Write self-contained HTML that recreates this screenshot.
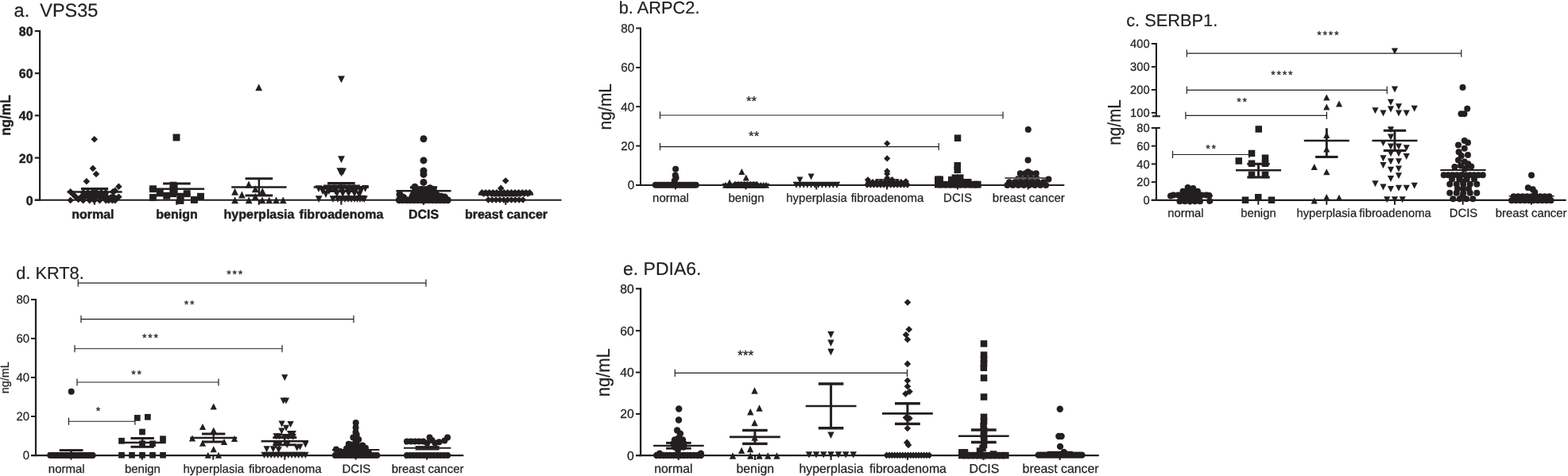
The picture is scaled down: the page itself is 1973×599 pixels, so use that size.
<!DOCTYPE html>
<html lang="en">
<head>
<meta charset="utf-8">
<title>Serum biomarker levels</title>
<style>
html,body{margin:0;padding:0;background:#fff;}
body{width:1973px;height:599px;overflow:hidden;}
svg{display:block;font-family:"Liberation Sans",Arial,Helvetica,sans-serif;}
text{white-space:pre;}
</style>
</head>
<body>
<svg width="1973" height="599" viewBox="0 0 1973 599" text-rendering="geometricPrecision">
<rect width="1973" height="599" fill="#ffffff"/>
<g>
<g fill="none" stroke="#231f20"><path d="M50.1 38L50.1 252.85" stroke-width="2.2"/><path d="M43.8 39.1L50.1 39.1" stroke-width="2.2"/><path d="M43.8 92.25L50.1 92.25" stroke-width="2.2"/><path d="M43.8 145.4L50.1 145.4" stroke-width="2.2"/><path d="M43.8 198.6L50.1 198.6" stroke-width="2.2"/><path d="M43.8 251.75L50.1 251.75" stroke-width="2.2"/><path d="M43.8 251.75L706.5 251.75" stroke-width="2.2"/><path d="M118.9 251.75L118.9 257.75" stroke-width="2.2"/><path d="M222.3 251.75L222.3 257.75" stroke-width="2.2"/><path d="M325.8 251.75L325.8 257.75" stroke-width="2.2"/><path d="M429.4 251.75L429.4 257.75" stroke-width="2.2"/><path d="M533 251.75L533 257.75" stroke-width="2.2"/><path d="M636.3 251.75L636.3 257.75" stroke-width="2.2"/><path d="M84.55 241.5L153.55 241.5" stroke-width="2.5"/><path d="M101.95 237.6L136.15 237.6" stroke-width="3.2"/><path d="M101.95 244.8L136.15 244.8" stroke-width="3.2"/><path d="M119.05 237.6L119.05 244.8" stroke-width="2.5"/><path d="M187.7 237.75L257.1 237.75" stroke-width="2.5"/><path d="M205.1 231L239.7 231" stroke-width="3.2"/><path d="M205.1 244.5L239.7 244.5" stroke-width="3.2"/><path d="M222.4 231L222.4 244.5" stroke-width="2.5"/><path d="M291.2 235.4L360.6 235.4" stroke-width="2.5"/><path d="M308.6 224.75L343.2 224.75" stroke-width="3.2"/><path d="M308.6 246L343.2 246" stroke-width="3.2"/><path d="M325.9 224.75L325.9 246" stroke-width="2.5"/><path d="M394.7 235.5L464.1 235.5" stroke-width="2.5"/><path d="M412.1 230.6L446.7 230.6" stroke-width="3.2"/><path d="M412.1 240.3L446.7 240.3" stroke-width="3.2"/><path d="M429.4 230.6L429.4 240.3" stroke-width="2.5"/><path d="M498.4 240.2L567.6 240.2" stroke-width="2.5"/><path d="M515.9 235.9L550.1 235.9" stroke-width="3.2"/><path d="M515.9 244.6L550.1 244.6" stroke-width="3.2"/><path d="M533 235.9L533 244.6" stroke-width="2.5"/><path d="M601.7 244.6L671.1 244.6" stroke-width="2.5"/><path d="M619.1 243.6L653.7 243.6" stroke-width="3.2"/><path d="M619.1 245.6L653.7 245.6" stroke-width="3.2"/><path d="M636.4 243.6L636.4 245.6" stroke-width="2.5"/></g>
<g fill="#231f20"><path d="M118.75 170.95L123.05 175.25L118.75 179.55L114.45 175.25Z"/><path d="M116.9 207.6L121.2 211.9L116.9 216.2L112.6 211.9Z"/><path d="M121 214.7L125.3 219L121 223.3L116.7 219Z"/><path d="M108.9 223.95L113.2 228.25L108.9 232.55L104.6 228.25Z"/><path d="M149.4 230.4L153.7 234.7L149.4 239L145.1 234.7Z"/><path d="M88.7 237.1L93 241.4L88.7 245.7L84.4 241.4Z"/><path d="M88.7 247.7L93 252L88.7 256.3L84.4 252Z"/><path d="M92 240.3L96.3 244.6L92 248.9L87.7 244.6Z"/><path d="M95.4 243.6L99.7 247.9L95.4 252.2L91.1 247.9Z"/><path d="M98.7 246.7L103 251L98.7 255.3L94.4 251Z"/><path d="M142.1 236.9L146.4 241.2L142.1 245.5L137.8 241.2Z"/><path d="M144.8 235.6L149.1 239.9L144.8 244.2L140.5 239.9Z"/><path d="M149.4 243.4L153.7 247.7L149.4 252L145.1 247.7Z"/><path d="M146 245.7L150.3 250L146 254.3L141.7 250Z"/><path d="M142.5 242.7L146.8 247L142.5 251.3L138.2 247Z"/><path d="M104.7 247.9L109 252.2L104.7 256.5L100.4 252.2Z"/><path d="M112.7 247.9L117 252.2L112.7 256.5L108.4 252.2Z"/><path d="M118.7 247.9L123 252.2L118.7 256.5L114.4 252.2Z"/><path d="M125.4 247.9L129.7 252.2L125.4 256.5L121.1 252.2Z"/><path d="M133.4 247.9L137.7 252.2L133.4 256.5L129.1 252.2Z"/><path d="M136.8 247.9L141.1 252.2L136.8 256.5L132.5 252.2Z"/><path d="M141.4 247.9L145.7 252.2L141.4 256.5L137.1 252.2Z"/><path d="M144.8 247.9L149.1 252.2L144.8 256.5L140.5 252.2Z"/><path d="M101.5 244L105.8 248.3L101.5 252.6L97.2 248.3Z"/><path d="M106.25 244L110.55 248.3L106.25 252.6L101.95 248.3Z"/><path d="M111 244L115.3 248.3L111 252.6L106.7 248.3Z"/><path d="M115.75 244L120.05 248.3L115.75 252.6L111.45 248.3Z"/><path d="M120.5 244L124.8 248.3L120.5 252.6L116.2 248.3Z"/><path d="M125.25 244L129.55 248.3L125.25 252.6L120.95 248.3Z"/><path d="M130 244L134.3 248.3L130 252.6L125.7 248.3Z"/><path d="M134.75 244L139.05 248.3L134.75 252.6L130.45 248.3Z"/><path d="M139.5 244L143.8 248.3L139.5 252.6L135.2 248.3Z"/><path d="M105 238.1L109.3 242.4L105 246.7L100.7 242.4Z"/><path d="M110.6 238.1L114.9 242.4L110.6 246.7L106.3 242.4Z"/><path d="M116.2 238.1L120.5 242.4L116.2 246.7L111.9 242.4Z"/><path d="M121.8 238.1L126.1 242.4L121.8 246.7L117.5 242.4Z"/><path d="M127.4 238.1L131.7 242.4L127.4 246.7L123.1 242.4Z"/><path d="M133 238.1L137.3 242.4L133 246.7L128.7 242.4Z"/><rect x="217.55" y="168.55" width="8.9" height="8.9"/><rect x="188.05" y="233.3" width="8.9" height="8.9"/><rect x="188.05" y="244.05" width="8.9" height="8.9"/><rect x="196.8" y="238.55" width="8.9" height="8.9"/><rect x="205.3" y="241.85" width="8.9" height="8.9"/><rect x="213.55" y="228.75" width="8.9" height="8.9"/><rect x="213.55" y="234.05" width="8.9" height="8.9"/><rect x="213.55" y="239.25" width="8.9" height="8.9"/><rect x="222.55" y="242.75" width="8.9" height="8.9"/><rect x="222.55" y="248.05" width="8.9" height="8.9"/><rect x="230.75" y="239.25" width="8.9" height="8.9"/><rect x="239.95" y="247.05" width="8.9" height="8.9"/><rect x="248.05" y="242.8" width="8.9" height="8.9"/><path d="M321.3 114.2L330.1 114.2L325.7 105.4Z"/><path d="M308.6 236.4L317.4 236.4L313 227.6Z"/><path d="M291.2 245.65L300 245.65L295.6 236.85Z"/><path d="M300 249.4L308.8 249.4L304.4 240.6Z"/><path d="M316.85 242.15L325.65 242.15L321.25 233.35Z"/><path d="M325.85 245L334.65 245L330.25 236.2Z"/><path d="M316.85 251.9L325.65 251.9L321.25 243.1Z"/><path d="M291.2 256.3L300 256.3L295.6 247.5Z"/><path d="M308.7 256.3L317.5 256.3L313.1 247.5Z"/><path d="M325.6 256.3L334.4 256.3L330 247.5Z"/><path d="M334.35 256.3L343.15 256.3L338.75 247.5Z"/><path d="M343.1 256.3L351.9 256.3L347.5 247.5Z"/><path d="M351.85 256.3L360.65 256.3L356.25 247.5Z"/><path d="M425.1 95.6L433.9 95.6L429.5 104.4Z"/><path d="M425.1 196.35L433.9 196.35L429.5 205.15Z"/><path d="M423.5 211.2L432.3 211.2L427.9 220Z"/><path d="M427.2 211.4L436 211.4L431.6 220.2Z"/><path d="M425.2 213.4L434 213.4L429.6 222.2Z"/><path d="M396.6 233.2L405.4 233.2L401 242Z"/><path d="M455.2 233L464 233L459.6 241.8Z"/><path d="M402.6 234.1L411.4 234.1L407 242.9Z"/><path d="M448.6 234.1L457.4 234.1L453 242.9Z"/><path d="M396.8 246.2L405.6 246.2L401.2 255Z"/><path d="M405.6 240.1L414.4 240.1L410 248.9Z"/><path d="M447.6 240.6L456.4 240.6L452 249.4Z"/><path d="M451.6 245.8L460.4 245.8L456 254.6Z"/><path d="M454 246.2L462.8 246.2L458.4 255Z"/><path d="M406.6 232.4L415.4 232.4L411 241.2Z"/><path d="M412.93 232.4L421.73 232.4L417.33 241.2Z"/><path d="M419.27 232.4L428.07 232.4L423.67 241.2Z"/><path d="M425.6 232.4L434.4 232.4L430 241.2Z"/><path d="M431.93 232.4L440.73 232.4L436.33 241.2Z"/><path d="M438.27 232.4L447.07 232.4L442.67 241.2Z"/><path d="M444.6 232.4L453.4 232.4L449 241.2Z"/><path d="M401.6 236.2L410.4 236.2L406 245Z"/><path d="M409.6 236.2L418.4 236.2L414 245Z"/><path d="M417.6 236.2L426.4 236.2L422 245Z"/><path d="M425.6 236.2L434.4 236.2L430 245Z"/><path d="M433.6 236.2L442.4 236.2L438 245Z"/><path d="M441.6 236.2L450.4 236.2L446 245Z"/><path d="M449.6 236.2L458.4 236.2L454 245Z"/><path d="M419.6 239.2L428.4 239.2L424 248Z"/><path d="M426.93 239.2L435.73 239.2L431.33 248Z"/><path d="M434.27 239.2L443.07 239.2L438.67 248Z"/><path d="M441.6 239.2L450.4 239.2L446 248Z"/><path d="M414.6 246.2L423.4 246.2L419 255Z"/><path d="M420.6 246.2L429.4 246.2L425 255Z"/><path d="M425.2 246.2L434 246.2L429.6 255Z"/><path d="M429.6 246.2L438.4 246.2L434 255Z"/><path d="M433.6 246.2L442.4 246.2L438 255Z"/><path d="M437.6 246.2L446.4 246.2L442 255Z"/><path d="M441.6 246.2L450.4 246.2L446 255Z"/><path d="M445.1 246.2L453.9 246.2L449.5 255Z"/><path d="M448.6 246.2L457.4 246.2L453 255Z"/><circle cx="533" cy="174.75" r="4.5"/><circle cx="533" cy="201.9" r="4.5"/><circle cx="533" cy="215" r="4.5"/><circle cx="533" cy="219.4" r="4.5"/><circle cx="533" cy="229.4" r="4.5"/><circle cx="522" cy="235.2" r="4.5"/><circle cx="541" cy="236.8" r="4.5"/><circle cx="503" cy="244.8" r="4.5"/><circle cx="507.5" cy="248.2" r="4.5"/><circle cx="549.5" cy="245.3" r="4.5"/><circle cx="555" cy="247.2" r="4.5"/><circle cx="559.5" cy="247.9" r="4.5"/><circle cx="502.3" cy="251.7" r="4.5"/><circle cx="506.99" cy="251.7" r="4.5"/><circle cx="511.68" cy="251.7" r="4.5"/><circle cx="516.38" cy="251.7" r="4.5"/><circle cx="521.07" cy="251.7" r="4.5"/><circle cx="525.76" cy="251.7" r="4.5"/><circle cx="530.45" cy="251.7" r="4.5"/><circle cx="535.15" cy="251.7" r="4.5"/><circle cx="539.84" cy="251.7" r="4.5"/><circle cx="544.53" cy="251.7" r="4.5"/><circle cx="549.22" cy="251.7" r="4.5"/><circle cx="553.92" cy="251.7" r="4.5"/><circle cx="558.61" cy="251.7" r="4.5"/><circle cx="563.3" cy="251.7" r="4.5"/><circle cx="519" cy="247.3" r="4.5"/><circle cx="525" cy="247.3" r="4.5"/><circle cx="531" cy="247.3" r="4.5"/><circle cx="537" cy="247.3" r="4.5"/><circle cx="543" cy="247.3" r="4.5"/><circle cx="549" cy="247.3" r="4.5"/><circle cx="521" cy="242.6" r="4.5"/><circle cx="527.5" cy="242.6" r="4.5"/><circle cx="534" cy="242.6" r="4.5"/><circle cx="540.5" cy="242.6" r="4.5"/><circle cx="547" cy="242.6" r="4.5"/><circle cx="523" cy="238.8" r="4.5"/><circle cx="530.33" cy="238.8" r="4.5"/><circle cx="537.67" cy="238.8" r="4.5"/><circle cx="545" cy="238.8" r="4.5"/><path d="M636.25 223.2L640.55 227.5L636.25 231.8L631.95 227.5Z"/><path d="M630.25 232.6L634.55 236.9L630.25 241.2L625.95 236.9Z"/><path d="M606.5 238.1L610.8 242.4L606.5 246.7L602.2 242.4Z"/><path d="M611.12 238.1L615.42 242.4L611.12 246.7L606.82 242.4Z"/><path d="M615.73 238.1L620.03 242.4L615.73 246.7L611.43 242.4Z"/><path d="M620.35 238.1L624.65 242.4L620.35 246.7L616.05 242.4Z"/><path d="M624.96 238.1L629.26 242.4L624.96 246.7L620.66 242.4Z"/><path d="M629.58 238.1L633.88 242.4L629.58 246.7L625.28 242.4Z"/><path d="M634.19 238.1L638.49 242.4L634.19 246.7L629.89 242.4Z"/><path d="M638.81 238.1L643.11 242.4L638.81 246.7L634.51 242.4Z"/><path d="M643.42 238.1L647.72 242.4L643.42 246.7L639.12 242.4Z"/><path d="M648.04 238.1L652.34 242.4L648.04 246.7L643.74 242.4Z"/><path d="M652.65 238.1L656.95 242.4L652.65 246.7L648.35 242.4Z"/><path d="M657.27 238.1L661.57 242.4L657.27 246.7L652.97 242.4Z"/><path d="M661.88 238.1L666.18 242.4L661.88 246.7L657.58 242.4Z"/><path d="M666.5 238.1L670.8 242.4L666.5 246.7L662.2 242.4Z"/><path d="M608.8 239.5L613.1 243.8L608.8 248.1L604.5 243.8Z"/><path d="M613.42 239.5L617.72 243.8L613.42 248.1L609.12 243.8Z"/><path d="M618.03 239.5L622.33 243.8L618.03 248.1L613.73 243.8Z"/><path d="M622.65 239.5L626.95 243.8L622.65 248.1L618.35 243.8Z"/><path d="M627.27 239.5L631.57 243.8L627.27 248.1L622.97 243.8Z"/><path d="M631.88 239.5L636.18 243.8L631.88 248.1L627.58 243.8Z"/><path d="M636.5 239.5L640.8 243.8L636.5 248.1L632.2 243.8Z"/><path d="M641.12 239.5L645.42 243.8L641.12 248.1L636.82 243.8Z"/><path d="M645.73 239.5L650.03 243.8L645.73 248.1L641.43 243.8Z"/><path d="M650.35 239.5L654.65 243.8L650.35 248.1L646.05 243.8Z"/><path d="M654.97 239.5L659.27 243.8L654.97 248.1L650.67 243.8Z"/><path d="M659.58 239.5L663.88 243.8L659.58 248.1L655.28 243.8Z"/><path d="M664.2 239.5L668.5 243.8L664.2 248.1L659.9 243.8Z"/><path d="M614.5 247.2L618.8 251.5L614.5 255.8L610.2 251.5Z"/><path d="M619.33 247.2L623.63 251.5L619.33 255.8L615.03 251.5Z"/><path d="M624.17 247.2L628.47 251.5L624.17 255.8L619.87 251.5Z"/><path d="M629 247.2L633.3 251.5L629 255.8L624.7 251.5Z"/><path d="M633.83 247.2L638.13 251.5L633.83 255.8L629.53 251.5Z"/><path d="M638.67 247.2L642.97 251.5L638.67 255.8L634.37 251.5Z"/><path d="M643.5 247.2L647.8 251.5L643.5 255.8L639.2 251.5Z"/><path d="M648.33 247.2L652.63 251.5L648.33 255.8L644.03 251.5Z"/><path d="M653.17 247.2L657.47 251.5L653.17 255.8L648.87 251.5Z"/><path d="M658 247.2L662.3 251.5L658 255.8L653.7 251.5Z"/></g>
<g fill="#231f20" stroke="#231f20" stroke-width="0.45" stroke-linejoin="round"><text stroke-width="0.2" x="17.6" y="21.2" font-size="23.5" xml:space="preserve">a.  VPS35</text><text x="41.6" y="45.1" font-size="16" text-anchor="end" font-weight="bold">80</text><text x="41.6" y="98.25" font-size="16" text-anchor="end" font-weight="bold">60</text><text x="41.6" y="151.4" font-size="16" text-anchor="end" font-weight="bold">40</text><text x="41.6" y="204.6" font-size="16" text-anchor="end" font-weight="bold">20</text><text x="41.6" y="257.75" font-size="16" text-anchor="end" font-weight="bold">0</text><text transform="translate(13.1 145.2) rotate(-90) scale(0.94 1)" font-size="18.2" text-anchor="middle" font-weight="bold">ng/mL</text><text x="116.9" y="274.7" font-size="16" text-anchor="middle" font-weight="bold">normal</text><text x="222.5" y="274.7" font-size="16" text-anchor="middle" font-weight="bold">benign</text><text x="326" y="274.7" font-size="16" text-anchor="middle" font-weight="bold">hyperplasia</text><text x="429.5" y="274.7" font-size="16" text-anchor="middle" font-weight="bold">fibroadenoma</text><text x="533" y="274.7" font-size="16" text-anchor="middle" font-weight="bold">DCIS</text><text x="637" y="274.7" font-size="16" text-anchor="middle" font-weight="bold">breast cancer</text></g>
</g>
<g>
<g fill="none" stroke="#231f20"><path d="M806 34.5L806 233.95" stroke-width="2.05"/><path d="M800.2 35.5L806 35.5" stroke-width="2"/><path d="M800.2 85L806 85" stroke-width="2"/><path d="M800.2 134.2L806 134.2" stroke-width="2"/><path d="M800.2 183.6L806 183.6" stroke-width="2"/><path d="M800.2 232.95L806 232.95" stroke-width="2"/><path d="M800.2 232.95L1339.3 232.95" stroke-width="2.05"/><path d="M850 232.95L850 238.55" stroke-width="2"/><path d="M938.4 232.95L938.4 238.55" stroke-width="2"/><path d="M1027.3 232.95L1027.3 238.55" stroke-width="2"/><path d="M1116 232.95L1116 238.55" stroke-width="2"/><path d="M1204.9 232.95L1204.9 238.55" stroke-width="2"/><path d="M1293.6 232.95L1293.6 238.55" stroke-width="2"/><path d="M908.9 231.6L967.9 231.6" stroke-width="1.7"/><path d="M923.7 229.8L953.1 229.8" stroke-width="1.9"/><path d="M923.7 233.4L953.1 233.4" stroke-width="1.9"/><path d="M938.4 229.8L938.4 233.4" stroke-width="1.7"/><path d="M998 229.5L1057 229.5" stroke-width="1.4"/><path d="M1101.4 226L1131.4 226" stroke-width="1.6"/><path d="M1264.3 224L1321.3 224" stroke-width="1.5"/><path d="M1277.8 222.25L1307.8 222.25" stroke-width="1.5"/><path d="M1277.8 226L1307.8 226" stroke-width="1.5"/><path d="M1292.8 222.25L1292.8 226" stroke-width="1.5"/><path d="M830.5 145L1262 145" stroke-width="1.2"/><path d="M830.5 140.4L830.5 149.6" stroke-width="1.2"/><path d="M1262 140.4L1262 149.6" stroke-width="1.2"/><path d="M830.5 184.6L1181.2 184.6" stroke-width="1.2"/><path d="M830.5 180L830.5 189.2" stroke-width="1.2"/><path d="M1181.2 180L1181.2 189.2" stroke-width="1.2"/></g>
<g fill="#231f20"><circle cx="850.1" cy="212.75" r="4"/><circle cx="849.75" cy="220.6" r="4"/><circle cx="850.6" cy="223.75" r="4"/><circle cx="848.75" cy="227.5" r="4"/><circle cx="824.8" cy="232.75" r="4"/><circle cx="827.23" cy="232.75" r="4"/><circle cx="829.66" cy="232.75" r="4"/><circle cx="832.09" cy="232.75" r="4"/><circle cx="834.51" cy="232.75" r="4"/><circle cx="836.94" cy="232.75" r="4"/><circle cx="839.37" cy="232.75" r="4"/><circle cx="841.8" cy="232.75" r="4"/><circle cx="844.23" cy="232.75" r="4"/><circle cx="846.66" cy="232.75" r="4"/><circle cx="849.09" cy="232.75" r="4"/><circle cx="851.51" cy="232.75" r="4"/><circle cx="853.94" cy="232.75" r="4"/><circle cx="856.37" cy="232.75" r="4"/><circle cx="858.8" cy="232.75" r="4"/><circle cx="861.23" cy="232.75" r="4"/><circle cx="863.66" cy="232.75" r="4"/><circle cx="866.09" cy="232.75" r="4"/><circle cx="868.51" cy="232.75" r="4"/><circle cx="870.94" cy="232.75" r="4"/><circle cx="873.37" cy="232.75" r="4"/><circle cx="875.8" cy="232.75" r="4"/><path d="M929.4 220L937.4 220L933.4 212Z"/><path d="M934.75 227.5L942.75 227.5L938.75 219.5Z"/><path d="M914 233.5L922 233.5L918 225.5Z"/><path d="M909 236.7L917 236.7L913 228.7Z"/><path d="M912.4 236.7L920.4 236.7L916.4 228.7Z"/><path d="M915.8 236.7L923.8 236.7L919.8 228.7Z"/><path d="M919.2 236.7L927.2 236.7L923.2 228.7Z"/><path d="M922.6 236.7L930.6 236.7L926.6 228.7Z"/><path d="M926 236.7L934 236.7L930 228.7Z"/><path d="M929.4 236.7L937.4 236.7L933.4 228.7Z"/><path d="M932.8 236.7L940.8 236.7L936.8 228.7Z"/><path d="M936.2 236.7L944.2 236.7L940.2 228.7Z"/><path d="M939.6 236.7L947.6 236.7L943.6 228.7Z"/><path d="M943 236.7L951 236.7L947 228.7Z"/><path d="M946.4 236.7L954.4 236.7L950.4 228.7Z"/><path d="M949.8 236.7L957.8 236.7L953.8 228.7Z"/><path d="M953.2 236.7L961.2 236.7L957.2 228.7Z"/><path d="M956.6 236.7L964.6 236.7L960.6 228.7Z"/><path d="M960 236.7L968 236.7L964 228.7Z"/><path d="M921 235.5L929 235.5L925 227.5Z"/><path d="M924.86 235.5L932.86 235.5L928.86 227.5Z"/><path d="M928.71 235.5L936.71 235.5L932.71 227.5Z"/><path d="M932.57 235.5L940.57 235.5L936.57 227.5Z"/><path d="M936.43 235.5L944.43 235.5L940.43 227.5Z"/><path d="M940.29 235.5L948.29 235.5L944.29 227.5Z"/><path d="M944.14 235.5L952.14 235.5L948.14 227.5Z"/><path d="M948 235.5L956 235.5L952 227.5Z"/><path d="M1002.5 222.5L1010.5 222.5L1006.5 230.5Z"/><path d="M1016.6 218.5L1024.6 218.5L1020.6 226.5Z"/><path d="M998 229L1006 229L1002 237Z"/><path d="M1002.64 229L1010.64 229L1006.64 237Z"/><path d="M1007.27 229L1015.27 229L1011.27 237Z"/><path d="M1011.91 229L1019.91 229L1015.91 237Z"/><path d="M1016.55 229L1024.55 229L1020.55 237Z"/><path d="M1021.18 229L1029.18 229L1025.18 237Z"/><path d="M1025.82 229L1033.82 229L1029.82 237Z"/><path d="M1030.45 229L1038.45 229L1034.45 237Z"/><path d="M1035.09 229L1043.09 229L1039.09 237Z"/><path d="M1039.73 229L1047.73 229L1043.73 237Z"/><path d="M1044.36 229L1052.36 229L1048.36 237Z"/><path d="M1049 229L1057 229L1053 237Z"/><path d="M1116.25 176.4L1120.35 180.5L1116.25 184.6L1112.15 180.5Z"/><path d="M1116.25 195.3L1120.35 199.4L1116.25 203.5L1112.15 199.4Z"/><path d="M1116.25 211.3L1120.35 215.4L1116.25 219.5L1112.15 215.4Z"/><path d="M1116.25 214.65L1120.35 218.75L1116.25 222.85L1112.15 218.75Z"/><path d="M1092 222.2L1096.1 226.3L1092 230.4L1087.9 226.3Z"/><path d="M1122.5 222.1L1126.6 226.2L1122.5 230.3L1118.4 226.2Z"/><path d="M1140 224.2L1144.1 228.3L1140 232.4L1135.9 228.3Z"/><path d="M1116.3 219.9L1120.4 224L1116.3 228.1L1112.2 224Z"/><path d="M1091.2 228.5L1095.3 232.6L1091.2 236.7L1087.1 232.6Z"/><path d="M1095.42 228.5L1099.52 232.6L1095.42 236.7L1091.32 232.6Z"/><path d="M1099.63 228.5L1103.73 232.6L1099.63 236.7L1095.53 232.6Z"/><path d="M1103.85 228.5L1107.95 232.6L1103.85 236.7L1099.75 232.6Z"/><path d="M1108.07 228.5L1112.17 232.6L1108.07 236.7L1103.97 232.6Z"/><path d="M1112.28 228.5L1116.38 232.6L1112.28 236.7L1108.18 232.6Z"/><path d="M1116.5 228.5L1120.6 232.6L1116.5 236.7L1112.4 232.6Z"/><path d="M1120.72 228.5L1124.82 232.6L1120.72 236.7L1116.62 232.6Z"/><path d="M1124.93 228.5L1129.03 232.6L1124.93 236.7L1120.83 232.6Z"/><path d="M1129.15 228.5L1133.25 232.6L1129.15 236.7L1125.05 232.6Z"/><path d="M1133.37 228.5L1137.47 232.6L1133.37 236.7L1129.27 232.6Z"/><path d="M1137.58 228.5L1141.68 232.6L1137.58 236.7L1133.48 232.6Z"/><path d="M1141.8 228.5L1145.9 232.6L1141.8 236.7L1137.7 232.6Z"/><path d="M1093 225.1L1097.1 229.2L1093 233.3L1088.9 229.2Z"/><path d="M1098.11 225.1L1102.21 229.2L1098.11 233.3L1094.01 229.2Z"/><path d="M1103.22 225.1L1107.32 229.2L1103.22 233.3L1099.12 229.2Z"/><path d="M1108.33 225.1L1112.43 229.2L1108.33 233.3L1104.23 229.2Z"/><path d="M1113.44 225.1L1117.54 229.2L1113.44 233.3L1109.34 229.2Z"/><path d="M1118.56 225.1L1122.66 229.2L1118.56 233.3L1114.46 229.2Z"/><path d="M1123.67 225.1L1127.77 229.2L1123.67 233.3L1119.57 229.2Z"/><path d="M1128.78 225.1L1132.88 229.2L1128.78 233.3L1124.68 229.2Z"/><path d="M1133.89 225.1L1137.99 229.2L1133.89 233.3L1129.79 229.2Z"/><path d="M1139 225.1L1143.1 229.2L1139 233.3L1134.9 229.2Z"/><rect x="1200.75" y="169.5" width="8.5" height="8.5"/><rect x="1200.5" y="204.05" width="8.5" height="8.5"/><rect x="1200.5" y="209.55" width="8.5" height="8.5"/><rect x="1176" y="221.55" width="8.5" height="8.5"/><rect x="1178.5" y="221.55" width="8.5" height="8.5"/><rect x="1192.95" y="222.05" width="8.5" height="8.5"/><rect x="1197.5" y="219.45" width="8.5" height="8.5"/><rect x="1204" y="219.45" width="8.5" height="8.5"/><rect x="1200.75" y="223.75" width="8.5" height="8.5"/><rect x="1211.75" y="225.05" width="8.5" height="8.5"/><rect x="1214" y="225.05" width="8.5" height="8.5"/><rect x="1221.75" y="227.75" width="8.5" height="8.5"/><rect x="1225.9" y="227.75" width="8.5" height="8.5"/><rect x="1176" y="228.05" width="8.5" height="8.5"/><rect x="1182.24" y="228.05" width="8.5" height="8.5"/><rect x="1188.47" y="228.05" width="8.5" height="8.5"/><rect x="1194.71" y="228.05" width="8.5" height="8.5"/><rect x="1200.95" y="228.05" width="8.5" height="8.5"/><rect x="1207.19" y="228.05" width="8.5" height="8.5"/><rect x="1213.43" y="228.05" width="8.5" height="8.5"/><rect x="1219.66" y="228.05" width="8.5" height="8.5"/><rect x="1225.9" y="228.05" width="8.5" height="8.5"/><circle cx="1293.75" cy="163" r="4"/><circle cx="1293.5" cy="201.6" r="4"/><circle cx="1293.5" cy="216.2" r="4"/><circle cx="1319.4" cy="225.6" r="4"/><circle cx="1283.75" cy="218.3" r="4"/><circle cx="1290.42" cy="218.3" r="4"/><circle cx="1297.08" cy="218.3" r="4"/><circle cx="1303.75" cy="218.3" r="4"/><circle cx="1270" cy="229.3" r="4"/><circle cx="1277.17" cy="229.3" r="4"/><circle cx="1284.33" cy="229.3" r="4"/><circle cx="1291.5" cy="229.3" r="4"/><circle cx="1298.67" cy="229.3" r="4"/><circle cx="1305.83" cy="229.3" r="4"/><circle cx="1313" cy="229.3" r="4"/><circle cx="1267.5" cy="233" r="4"/><circle cx="1274.43" cy="233" r="4"/><circle cx="1281.36" cy="233" r="4"/><circle cx="1288.29" cy="233" r="4"/><circle cx="1295.21" cy="233" r="4"/><circle cx="1302.14" cy="233" r="4"/><circle cx="1309.07" cy="233" r="4"/><circle cx="1316" cy="233" r="4"/></g>
<g fill="#231f20" stroke="#231f20" stroke-width="0.25" stroke-linejoin="round"><text stroke-width="0.2" x="778.7" y="16.5" font-size="21.8">b. ARPC2.</text><text x="798.3" y="40.9" font-size="15.3" text-anchor="end">80</text><text x="798.3" y="90.4" font-size="15.3" text-anchor="end">60</text><text x="798.3" y="139.6" font-size="15.3" text-anchor="end">40</text><text x="798.3" y="189" font-size="15.3" text-anchor="end">20</text><text x="798.3" y="238.35" font-size="15.3" text-anchor="end">0</text><text transform="translate(769.1 134.3) rotate(-90) scale(0.94 1)" font-size="22.4" text-anchor="middle">ng/mL</text><text x="844" y="254.1" font-size="15" text-anchor="middle">normal</text><text x="939" y="254.1" font-size="15" text-anchor="middle">benign</text><text x="1027.6" y="254.1" font-size="15" text-anchor="middle">hyperplasia</text><text x="1116.5" y="254.1" font-size="15" text-anchor="middle">fibroadenoma</text><text x="1205" y="254.1" font-size="15" text-anchor="middle">DCIS</text><text x="1294.3" y="254.1" font-size="15" text-anchor="middle">breast cancer</text><text x="945.5" y="133" font-size="17" text-anchor="middle">**</text><text x="948.7" y="177.2" font-size="17" text-anchor="middle">**</text></g>
</g>
<g>
<g fill="none" stroke="#231f20"><path d="M1454.95 53.9L1454.95 146.25" stroke-width="2.05"/><path d="M1454.95 161L1454.95 252.85" stroke-width="2.05"/><path d="M1450 146.25L1459.8 146.25" stroke-width="2.2"/><path d="M1450 161L1459.8 161" stroke-width="2.2"/><path d="M1448.8 55L1454.95 55" stroke-width="2"/><path d="M1448.8 84.1L1454.95 84.1" stroke-width="2"/><path d="M1448.8 113L1454.95 113" stroke-width="2"/><path d="M1448.8 141.9L1454.95 141.9" stroke-width="2"/><path d="M1448.8 161L1454.95 161" stroke-width="2"/><path d="M1448.8 183.7L1454.95 183.7" stroke-width="2"/><path d="M1448.8 206.4L1454.95 206.4" stroke-width="2"/><path d="M1448.8 229.1L1454.95 229.1" stroke-width="2"/><path d="M1448.8 251.85L1454.95 251.85" stroke-width="2"/><path d="M1448.8 251.85L1970.7 251.85" stroke-width="2.05"/><path d="M1497.5 251.85L1497.5 257.65" stroke-width="2"/><path d="M1583.3 251.85L1583.3 257.65" stroke-width="2"/><path d="M1669.3 251.85L1669.3 257.65" stroke-width="2"/><path d="M1755 251.85L1755 257.65" stroke-width="2"/><path d="M1840.7 251.85L1840.7 257.65" stroke-width="2"/><path d="M1926.9 251.85L1926.9 257.65" stroke-width="2"/><path d="M1469 246.5L1526 246.5" stroke-width="1.5"/><path d="M1555 214.3L1612 214.3" stroke-width="2.4"/><path d="M1569.3 206.3L1597.7 206.3" stroke-width="3.1"/><path d="M1569.3 223L1597.7 223" stroke-width="3.1"/><path d="M1583.5 206.3L1583.5 223" stroke-width="2.9"/><path d="M1640.8 177L1697.8 177" stroke-width="2.4"/><path d="M1655.1 197.5L1683.5 197.5" stroke-width="3.1"/><path d="M1669.3 161.3L1669.3 197.5" stroke-width="2.9"/><path d="M1726.5 177L1783.5 177" stroke-width="2.4"/><path d="M1740.8 164.3L1769.2 164.3" stroke-width="3.1"/><path d="M1740.8 189.5L1769.2 189.5" stroke-width="3.1"/><path d="M1755 164.3L1755 189.5" stroke-width="2.9"/><path d="M1812.4 214L1869.6 214" stroke-width="1.8"/><path d="M1826.8 209.7L1855.2 209.7" stroke-width="1.8"/><path d="M1826.8 218.3L1855.2 218.3" stroke-width="1.8"/><path d="M1841 209.7L1841 218.3" stroke-width="2.9"/><path d="M1898.6 246.7L1955.6 246.7" stroke-width="1.5"/><path d="M1493.3 67.1L1838.8 67.1" stroke-width="1.2"/><path d="M1493.3 62.5L1493.3 71.7" stroke-width="1.2"/><path d="M1838.8 62.5L1838.8 71.7" stroke-width="1.2"/><path d="M1493.3 113.4L1745.3 113.4" stroke-width="1.2"/><path d="M1493.3 108.8L1493.3 118" stroke-width="1.2"/><path d="M1745.3 108.8L1745.3 118" stroke-width="1.2"/><path d="M1491.9 145.3L1669.4 145.3" stroke-width="1.2"/><path d="M1491.9 140.7L1491.9 149.9" stroke-width="1.2"/><path d="M1669.4 140.7L1669.4 149.9" stroke-width="1.2"/><path d="M1475.5 194.5L1572 194.5" stroke-width="1.2"/><path d="M1475.5 189.9L1475.5 199.1" stroke-width="1.2"/><path d="M1572 189.9L1572 199.1" stroke-width="1.2"/></g>
<g fill="#231f20"><circle cx="1494.6" cy="236.1" r="4"/><circle cx="1501.3" cy="236.9" r="4"/><circle cx="1522.2" cy="252.9" r="4"/><circle cx="1473" cy="246.4" r="4"/><circle cx="1521.5" cy="246" r="4"/><circle cx="1488.5" cy="240.8" r="4"/><circle cx="1494.67" cy="240.8" r="4"/><circle cx="1500.83" cy="240.8" r="4"/><circle cx="1507" cy="240.8" r="4"/><circle cx="1476.5" cy="245.4" r="4"/><circle cx="1482.43" cy="245.4" r="4"/><circle cx="1488.36" cy="245.4" r="4"/><circle cx="1494.29" cy="245.4" r="4"/><circle cx="1500.21" cy="245.4" r="4"/><circle cx="1506.14" cy="245.4" r="4"/><circle cx="1512.07" cy="245.4" r="4"/><circle cx="1518" cy="245.4" r="4"/><circle cx="1486.5" cy="249.2" r="4"/><circle cx="1493.83" cy="249.2" r="4"/><circle cx="1501.17" cy="249.2" r="4"/><circle cx="1508.5" cy="249.2" r="4"/><circle cx="1484.5" cy="253.2" r="4"/><circle cx="1490.88" cy="253.2" r="4"/><circle cx="1497.25" cy="253.2" r="4"/><circle cx="1503.62" cy="253.2" r="4"/><circle cx="1510" cy="253.2" r="4"/><rect x="1579.5" y="158.25" width="8.5" height="8.5"/><rect x="1570.75" y="188.75" width="8.5" height="8.5"/><rect x="1554.5" y="198.25" width="8.5" height="8.5"/><rect x="1587.75" y="194.5" width="8.5" height="8.5"/><rect x="1570.75" y="201.5" width="8.5" height="8.5"/><rect x="1587.75" y="201.5" width="8.5" height="8.5"/><rect x="1570.75" y="215.75" width="8.5" height="8.5"/><rect x="1587.75" y="215.75" width="8.5" height="8.5"/><rect x="1562.75" y="247.5" width="8.5" height="8.5"/><rect x="1579" y="244" width="8.5" height="8.5"/><rect x="1595.75" y="247.5" width="8.5" height="8.5"/><path d="M1665.15 126.6L1673.35 126.6L1669.25 118.4Z"/><path d="M1665.15 138.6L1673.35 138.6L1669.25 130.4Z"/><path d="M1680.9 134.6L1689.1 134.6L1685 126.4Z"/><path d="M1665.15 174.1L1673.35 174.1L1669.25 165.9Z"/><path d="M1665.15 191.6L1673.35 191.6L1669.25 183.4Z"/><path d="M1649.65 214.1L1657.85 214.1L1653.75 205.9Z"/><path d="M1665.15 220.35L1673.35 220.35L1669.25 212.15Z"/><path d="M1649.65 256.6L1657.85 256.6L1653.75 248.4Z"/><path d="M1665.15 252.1L1673.35 252.1L1669.25 243.9Z"/><path d="M1680.9 252.85L1689.1 252.85L1685 244.65Z"/><path d="M1750.9 60.4L1759.1 60.4L1755 68.6Z"/><path d="M1750.9 108.4L1759.1 108.4L1755 116.6Z"/><path d="M1745.9 124.65L1754.1 124.65L1750 132.85Z"/><path d="M1755.9 130.15L1764.1 130.15L1760 138.35Z"/><path d="M1745.9 133.4L1754.1 133.4L1750 141.6Z"/><path d="M1726.4 135.15L1734.6 135.15L1730.5 143.35Z"/><path d="M1775.65 132.65L1783.85 132.65L1779.75 140.85Z"/><path d="M1736.4 138.4L1744.6 138.4L1740.5 146.6Z"/><path d="M1755.9 138.4L1764.1 138.4L1760 146.6Z"/><path d="M1765.65 138.4L1773.85 138.4L1769.75 146.6Z"/><path d="M1745.9 159.15L1754.1 159.15L1750 167.35Z"/><path d="M1745.9 168.4L1754.1 168.4L1750 176.6Z"/><path d="M1736.4 175.9L1744.6 175.9L1740.5 184.1Z"/><path d="M1745.9 180.4L1754.1 180.4L1750 188.6Z"/><path d="M1755.9 180.4L1764.1 180.4L1760 188.6Z"/><path d="M1765.65 182.15L1773.85 182.15L1769.75 190.35Z"/><path d="M1745.9 189.15L1754.1 189.15L1750 197.35Z"/><path d="M1755.9 189.15L1764.1 189.15L1760 197.35Z"/><path d="M1765.65 192.9L1773.85 192.9L1769.75 201.1Z"/><path d="M1736.4 195.15L1744.6 195.15L1740.5 203.35Z"/><path d="M1745.9 199.15L1754.1 199.15L1750 207.35Z"/><path d="M1755.9 199.15L1764.1 199.15L1760 207.35Z"/><path d="M1736.4 203.9L1744.6 203.9L1740.5 212.1Z"/><path d="M1745.9 209.65L1754.1 209.65L1750 217.85Z"/><path d="M1755.9 208.4L1764.1 208.4L1760 216.6Z"/><path d="M1755.9 217.15L1764.1 217.15L1760 225.35Z"/><path d="M1745.9 220.9L1754.1 220.9L1750 229.1Z"/><path d="M1726.4 227.15L1734.6 227.15L1730.5 235.35Z"/><path d="M1775.65 229.65L1783.85 229.65L1779.75 237.85Z"/><path d="M1736.4 231.4L1744.6 231.4L1740.5 239.6Z"/><path d="M1745.9 233.9L1754.1 233.9L1750 242.1Z"/><path d="M1755.9 232.65L1764.1 232.65L1760 240.85Z"/><path d="M1765.65 232.65L1773.85 232.65L1769.75 240.85Z"/><path d="M1741.15 247.15L1749.35 247.15L1745.25 255.35Z"/><path d="M1750.9 247.15L1759.1 247.15L1755 255.35Z"/><path d="M1760.65 247.15L1768.85 247.15L1764.75 255.35Z"/><circle cx="1840.5" cy="110" r="4"/><circle cx="1846.25" cy="136.75" r="4"/><circle cx="1838.5" cy="143.25" r="4"/><circle cx="1842.5" cy="143.25" r="4"/><circle cx="1842.75" cy="177" r="4"/><circle cx="1847" cy="179.5" r="4"/><circle cx="1835" cy="182.4" r="4"/><circle cx="1842.75" cy="186.7" r="4"/><circle cx="1835.6" cy="191.25" r="4"/><circle cx="1847" cy="195" r="4"/><circle cx="1838.8" cy="196" r="4"/><circle cx="1835" cy="201.4" r="4"/><circle cx="1842.75" cy="203.6" r="4"/><circle cx="1847.3" cy="206.2" r="4"/><circle cx="1851.2" cy="209.5" r="4"/><circle cx="1830.4" cy="210" r="4"/><circle cx="1838" cy="208.5" r="4"/><circle cx="1844" cy="212" r="4"/><circle cx="1816.7" cy="220.2" r="4"/><circle cx="1822.16" cy="220.2" r="4"/><circle cx="1827.61" cy="220.2" r="4"/><circle cx="1833.07" cy="220.2" r="4"/><circle cx="1838.52" cy="220.2" r="4"/><circle cx="1843.98" cy="220.2" r="4"/><circle cx="1849.43" cy="220.2" r="4"/><circle cx="1854.89" cy="220.2" r="4"/><circle cx="1860.34" cy="220.2" r="4"/><circle cx="1865.8" cy="220.2" r="4"/><circle cx="1827" cy="225.5" r="4"/><circle cx="1836.33" cy="225.5" r="4"/><circle cx="1845.67" cy="225.5" r="4"/><circle cx="1855" cy="225.5" r="4"/><circle cx="1824.2" cy="231.7" r="4"/><circle cx="1832.72" cy="231.7" r="4"/><circle cx="1841.25" cy="231.7" r="4"/><circle cx="1849.78" cy="231.7" r="4"/><circle cx="1858.3" cy="231.7" r="4"/><circle cx="1834" cy="237.5" r="4"/><circle cx="1841" cy="237.5" r="4"/><circle cx="1848" cy="237.5" r="4"/><circle cx="1824.2" cy="242.8" r="4"/><circle cx="1832.72" cy="242.8" r="4"/><circle cx="1841.25" cy="242.8" r="4"/><circle cx="1849.78" cy="242.8" r="4"/><circle cx="1858.3" cy="242.8" r="4"/><circle cx="1828.3" cy="250.2" r="4"/><circle cx="1836.63" cy="250.2" r="4"/><circle cx="1844.97" cy="250.2" r="4"/><circle cx="1853.3" cy="250.2" r="4"/><circle cx="1840.5" cy="246.5" r="4"/><circle cx="1841" cy="228.5" r="4"/><circle cx="1927" cy="220.4" r="4"/><circle cx="1922.8" cy="236.25" r="4"/><circle cx="1928.7" cy="238.2" r="4"/><circle cx="1931.3" cy="242" r="4"/><circle cx="1904.6" cy="247.3" r="4"/><circle cx="1910.21" cy="247.3" r="4"/><circle cx="1915.82" cy="247.3" r="4"/><circle cx="1921.44" cy="247.3" r="4"/><circle cx="1927.05" cy="247.3" r="4"/><circle cx="1932.66" cy="247.3" r="4"/><circle cx="1938.28" cy="247.3" r="4"/><circle cx="1943.89" cy="247.3" r="4"/><circle cx="1949.5" cy="247.3" r="4"/><circle cx="1902" cy="252.3" r="4"/><circle cx="1907.5" cy="252.3" r="4"/><circle cx="1913" cy="252.3" r="4"/><circle cx="1918.5" cy="252.3" r="4"/><circle cx="1924" cy="252.3" r="4"/><circle cx="1929.5" cy="252.3" r="4"/><circle cx="1935" cy="252.3" r="4"/><circle cx="1940.5" cy="252.3" r="4"/><circle cx="1946" cy="252.3" r="4"/><circle cx="1951.5" cy="252.3" r="4"/></g>
<g fill="#231f20" stroke="#231f20" stroke-width="0.25" stroke-linejoin="round"><text stroke-width="0.2" x="1417.2" y="32.9" font-size="21.8">c. SERBP1.</text><text x="1446.6" y="60.25" font-size="14.75" text-anchor="end">400</text><text x="1446.6" y="89.35" font-size="14.75" text-anchor="end">300</text><text x="1446.6" y="118.25" font-size="14.75" text-anchor="end">200</text><text x="1446.6" y="147.15" font-size="14.75" text-anchor="end">100</text><text x="1446.6" y="166.25" font-size="14.75" text-anchor="end">80</text><text x="1446.6" y="188.95" font-size="14.75" text-anchor="end">60</text><text x="1446.6" y="211.65" font-size="14.75" text-anchor="end">40</text><text x="1446.6" y="234.35" font-size="14.75" text-anchor="end">20</text><text x="1446.6" y="257.1" font-size="14.75" text-anchor="end">0</text><text transform="translate(1410.1 153.9) rotate(-90) scale(0.893 1)" font-size="23.2" text-anchor="middle">ng/mL</text><text x="1491.9" y="272.6" font-size="14.8" text-anchor="middle">normal</text><text x="1583.4" y="272.6" font-size="14.8" text-anchor="middle">benign</text><text x="1669.3" y="272.6" font-size="14.8" text-anchor="middle">hyperplasia</text><text x="1755.5" y="272.6" font-size="14.8" text-anchor="middle">fibroadenoma</text><text x="1841.5" y="272.6" font-size="14.8" text-anchor="middle">DCIS</text><text x="1926.6" y="272.6" font-size="14.8" text-anchor="middle">breast cancer</text><text x="1671.75" y="48.8" font-size="14.3" text-anchor="middle" letter-spacing="1.7">****</text><text x="1613.85" y="99.2" font-size="14.3" text-anchor="middle" letter-spacing="1.7">****</text><text x="1563.6" y="132.7" font-size="14.3" text-anchor="middle" letter-spacing="1.7">**</text><text x="1524.6" y="191.5" font-size="14.3" text-anchor="middle" letter-spacing="1.7">**</text></g>
</g>
<g>
<g fill="none" stroke="#231f20"><path d="M45 375.9L45 574.1" stroke-width="2.2"/><path d="M39 377L45 377" stroke-width="2"/><path d="M39 426L45 426" stroke-width="2"/><path d="M39 475L45 475" stroke-width="2"/><path d="M39 524L45 524" stroke-width="2"/><path d="M39 573.05L45 573.05" stroke-width="2"/><path d="M39 573.05L583.3 573.05" stroke-width="2.2"/><path d="M89.5 573.05L89.5 578.65" stroke-width="2"/><path d="M178.9 573.05L178.9 578.65" stroke-width="2"/><path d="M268.3 573.05L268.3 578.65" stroke-width="2"/><path d="M358.3 573.05L358.3 578.65" stroke-width="2"/><path d="M447.6 573.05L447.6 578.65" stroke-width="2"/><path d="M537.1 573.05L537.1 578.65" stroke-width="2"/><path d="M59.9 570.6L119.3 570.6" stroke-width="2.4"/><path d="M74.7 566.6L104.5 566.6" stroke-width="3"/><path d="M74.7 574L104.5 574" stroke-width="3"/><path d="M89.6 566.6L89.6 574" stroke-width="2.4"/><path d="M149.7 557L208.7 557" stroke-width="2.4"/><path d="M164.5 551.5L193.9 551.5" stroke-width="3"/><path d="M164.5 562.3L193.9 562.3" stroke-width="3"/><path d="M179.2 551.5L179.2 562.3" stroke-width="2.4"/><path d="M239.2 551L298.2 551" stroke-width="2.4"/><path d="M254 546L283.4 546" stroke-width="3"/><path d="M254 556L283.4 556" stroke-width="3"/><path d="M268.7 546L268.7 556" stroke-width="2.4"/><path d="M328.6 555.3L388 555.3" stroke-width="2.4"/><path d="M343.3 550.6L373.3 550.6" stroke-width="3"/><path d="M343.3 559.8L373.3 559.8" stroke-width="3"/><path d="M358.3 550.6L358.3 559.8" stroke-width="2.4"/><path d="M418 566L477.4 566" stroke-width="2"/><path d="M508 563.75L567.4 563.75" stroke-width="1.8"/><path d="M522.7 562.2L552.7 562.2" stroke-width="2.2"/><path d="M522.7 565.4L552.7 565.4" stroke-width="2.2"/><path d="M537.7 562.2L537.7 565.4" stroke-width="1.8"/><path d="M98.25 356.1L536 356.1" stroke-width="1.2"/><path d="M98.25 351.5L98.25 360.7" stroke-width="1.2"/><path d="M536 351.5L536 360.7" stroke-width="1.2"/><path d="M102 401.6L445 401.6" stroke-width="1.2"/><path d="M102 397L102 406.2" stroke-width="1.2"/><path d="M445 397L445 406.2" stroke-width="1.2"/><path d="M94 438.75L355 438.75" stroke-width="1.2"/><path d="M94 434.15L94 443.35" stroke-width="1.2"/><path d="M355 434.15L355 443.35" stroke-width="1.2"/><path d="M97 481L275 481" stroke-width="1.2"/><path d="M97 476.4L97 485.6" stroke-width="1.2"/><path d="M275 476.4L275 485.6" stroke-width="1.2"/><path d="M86.5 530.25L169.9 530.25" stroke-width="1.2"/><path d="M86.5 525.65L86.5 534.85" stroke-width="1.2"/><path d="M169.9 525.65L169.9 534.85" stroke-width="1.2"/></g>
<g fill="#231f20"><circle cx="89.7" cy="492.85" r="4"/><circle cx="63.3" cy="573.1" r="4"/><circle cx="66.11" cy="573.1" r="4"/><circle cx="68.91" cy="573.1" r="4"/><circle cx="71.72" cy="573.1" r="4"/><circle cx="74.52" cy="573.1" r="4"/><circle cx="77.33" cy="573.1" r="4"/><circle cx="80.13" cy="573.1" r="4"/><circle cx="82.94" cy="573.1" r="4"/><circle cx="85.74" cy="573.1" r="4"/><circle cx="88.55" cy="573.1" r="4"/><circle cx="91.35" cy="573.1" r="4"/><circle cx="94.16" cy="573.1" r="4"/><circle cx="96.96" cy="573.1" r="4"/><circle cx="99.77" cy="573.1" r="4"/><circle cx="102.57" cy="573.1" r="4"/><circle cx="105.38" cy="573.1" r="4"/><circle cx="108.18" cy="573.1" r="4"/><circle cx="110.99" cy="573.1" r="4"/><circle cx="113.79" cy="573.1" r="4"/><circle cx="116.6" cy="573.1" r="4"/><rect x="168.95" y="522.05" width="7.7" height="7.7"/><rect x="182" y="520.95" width="7.7" height="7.7"/><rect x="175.15" y="539.65" width="7.7" height="7.7"/><rect x="149.15" y="550.9" width="7.7" height="7.7"/><rect x="201.15" y="548.4" width="7.7" height="7.7"/><rect x="175.15" y="554.4" width="7.7" height="7.7"/><rect x="188.15" y="554.4" width="7.7" height="7.7"/><rect x="149.15" y="568.9" width="7.7" height="7.7"/><rect x="162.15" y="568.9" width="7.7" height="7.7"/><rect x="175.15" y="568.9" width="7.7" height="7.7"/><rect x="188.15" y="568.9" width="7.7" height="7.7"/><rect x="201.15" y="568.9" width="7.7" height="7.7"/><path d="M264.65 515.6L272.85 515.6L268.75 507.4Z"/><path d="M250.9 541.1L259.1 541.1L255 532.9Z"/><path d="M264.65 545.6L272.85 545.6L268.75 537.4Z"/><path d="M237.9 555.6L246.1 555.6L242 547.4Z"/><path d="M290.9 556.1L299.1 556.1L295 547.9Z"/><path d="M250.9 561.85L259.1 561.85L255 553.65Z"/><path d="M277.9 560.1L286.1 560.1L282 551.9Z"/><path d="M264.65 569.35L272.85 569.35L268.75 561.15Z"/><path d="M257.65 576.85L265.85 576.85L261.75 568.65Z"/><path d="M270.9 576.85L279.1 576.85L275 568.65Z"/><path d="M354.15 471.15L362.35 471.15L358.25 479.35Z"/><path d="M352.5 500.4L360.7 500.4L356.6 508.6Z"/><path d="M355.9 500.4L364.1 500.4L360 508.6Z"/><path d="M350.5 529.4L358.7 529.4L354.6 537.6Z"/><path d="M361.5 529.9L369.7 529.9L365.6 538.1Z"/><path d="M355.9 534.65L364.1 534.65L360 542.85Z"/><path d="M350.3 538.4L358.5 538.4L354.4 546.6Z"/><path d="M364.65 541.9L372.85 541.9L368.75 550.1Z"/><path d="M360.9 541.9L369.1 541.9L365 550.1Z"/><path d="M343.4 545.3L351.6 545.3L347.5 553.5Z"/><path d="M347.15 545.3L355.35 545.3L351.25 553.5Z"/><path d="M353.4 545.9L361.6 545.9L357.5 554.1Z"/><path d="M358.4 545.9L366.6 545.9L362.5 554.1Z"/><path d="M364.65 545.9L372.85 545.9L368.75 554.1Z"/><path d="M380.3 555.3L388.5 555.3L384.4 563.5Z"/><path d="M343.4 555.9L351.6 555.9L347.5 564.1Z"/><path d="M347.15 555.9L355.35 555.9L351.25 564.1Z"/><path d="M357.15 555.9L365.35 555.9L361.25 564.1Z"/><path d="M373.4 558.4L381.6 558.4L377.5 566.6Z"/><path d="M369.65 559.65L377.85 559.65L373.75 567.85Z"/><path d="M331.5 561.15L339.7 561.15L335.6 569.35Z"/><path d="M339.65 561.15L347.85 561.15L343.75 569.35Z"/><path d="M346.5 562.15L354.7 562.15L350.6 570.35Z"/><path d="M328.4 568.8L336.6 568.8L332.5 577Z"/><path d="M332.72 568.8L340.93 568.8L336.82 577Z"/><path d="M337.05 568.8L345.25 568.8L341.15 577Z"/><path d="M341.38 568.8L349.58 568.8L345.48 577Z"/><path d="M345.7 568.8L353.9 568.8L349.8 577Z"/><path d="M350.02 568.8L358.23 568.8L354.12 577Z"/><path d="M354.35 568.8L362.55 568.8L358.45 577Z"/><path d="M358.67 568.8L366.88 568.8L362.77 577Z"/><path d="M363 568.8L371.2 568.8L367.1 577Z"/><path d="M367.32 568.8L375.52 568.8L371.42 577Z"/><path d="M371.65 568.8L379.85 568.8L375.75 577Z"/><path d="M375.97 568.8L384.18 568.8L380.07 577Z"/><path d="M380.3 568.8L388.5 568.8L384.4 577Z"/><circle cx="447.75" cy="531.9" r="4"/><circle cx="447.6" cy="538" r="4"/><circle cx="447.5" cy="544" r="4"/><circle cx="448.75" cy="547" r="4"/><circle cx="444.4" cy="550.6" r="4"/><circle cx="451.25" cy="553" r="4"/><circle cx="447.8" cy="555" r="4"/><circle cx="438.75" cy="558.75" r="4"/><circle cx="443" cy="559.5" r="4"/><circle cx="449" cy="560" r="4"/><circle cx="456.25" cy="560.6" r="4"/><circle cx="452.5" cy="561.5" r="4"/><circle cx="423" cy="565.6" r="4"/><circle cx="460" cy="563.75" r="4"/><circle cx="436" cy="564.5" r="4"/><circle cx="441" cy="565" r="4"/><circle cx="447" cy="565" r="4"/><circle cx="454" cy="566" r="4"/><circle cx="428" cy="568" r="4"/><circle cx="464" cy="569.5" r="4"/><circle cx="433" cy="569" r="4"/><circle cx="438.4" cy="569" r="4"/><circle cx="443.8" cy="569" r="4"/><circle cx="449.2" cy="569" r="4"/><circle cx="454.6" cy="569" r="4"/><circle cx="460" cy="569" r="4"/><circle cx="421.9" cy="573.1" r="4"/><circle cx="425.94" cy="573.1" r="4"/><circle cx="429.98" cy="573.1" r="4"/><circle cx="434.02" cy="573.1" r="4"/><circle cx="438.05" cy="573.1" r="4"/><circle cx="442.09" cy="573.1" r="4"/><circle cx="446.13" cy="573.1" r="4"/><circle cx="450.17" cy="573.1" r="4"/><circle cx="454.21" cy="573.1" r="4"/><circle cx="458.25" cy="573.1" r="4"/><circle cx="462.28" cy="573.1" r="4"/><circle cx="466.32" cy="573.1" r="4"/><circle cx="470.36" cy="573.1" r="4"/><circle cx="474.4" cy="573.1" r="4"/><circle cx="540.6" cy="550.6" r="4"/><circle cx="563.1" cy="550.6" r="4"/><circle cx="559.4" cy="554.4" r="4"/><circle cx="552.5" cy="556.25" r="4"/><circle cx="547.5" cy="557.5" r="4"/><circle cx="537.5" cy="557.5" r="4"/><circle cx="543.5" cy="554" r="4"/><circle cx="511.9" cy="555.6" r="4"/><circle cx="517.05" cy="555.6" r="4"/><circle cx="522.2" cy="555.6" r="4"/><circle cx="527.35" cy="555.6" r="4"/><circle cx="532.5" cy="555.6" r="4"/><circle cx="511.9" cy="573.1" r="4"/><circle cx="516.17" cy="573.1" r="4"/><circle cx="520.43" cy="573.1" r="4"/><circle cx="524.7" cy="573.1" r="4"/><circle cx="528.97" cy="573.1" r="4"/><circle cx="533.23" cy="573.1" r="4"/><circle cx="537.5" cy="573.1" r="4"/><circle cx="541.77" cy="573.1" r="4"/><circle cx="546.03" cy="573.1" r="4"/><circle cx="550.3" cy="573.1" r="4"/><circle cx="554.57" cy="573.1" r="4"/><circle cx="558.83" cy="573.1" r="4"/><circle cx="563.1" cy="573.1" r="4"/></g>
<g fill="#231f20" stroke="#231f20" stroke-width="0.25" stroke-linejoin="round"><text stroke-width="0.2" x="20.2" y="351.3" font-size="21.8">d. KRT8.</text><text x="37.2" y="382.3" font-size="15" text-anchor="end">80</text><text x="37.2" y="431.3" font-size="15" text-anchor="end">60</text><text x="37.2" y="480.3" font-size="15" text-anchor="end">40</text><text x="37.2" y="529.3" font-size="15" text-anchor="end">20</text><text x="37.2" y="578.35" font-size="15" text-anchor="end">0</text><text transform="translate(11.2 475.2) rotate(-90) scale(0.975 1)" font-size="14.8" text-anchor="middle">ng/mL</text><text x="83.75" y="594.5" font-size="15" text-anchor="middle">normal</text><text x="179.4" y="594.5" font-size="15" text-anchor="middle">benign</text><text x="268.75" y="594.5" font-size="15" text-anchor="middle">hyperplasia</text><text x="358.75" y="594.5" font-size="15" text-anchor="middle">fibroadenoma</text><text x="448.4" y="594.5" font-size="15" text-anchor="middle">DCIS</text><text x="538.1" y="594.5" font-size="15" text-anchor="middle">breast cancer</text><text x="296.1" y="350.1" font-size="14.3" text-anchor="middle" letter-spacing="1.7">***</text><text x="239.1" y="388.3" font-size="14.3" text-anchor="middle" letter-spacing="1.7">**</text><text x="189.85" y="429.7" font-size="14.3" text-anchor="middle" letter-spacing="1.7">***</text><text x="172.6" y="475.8" font-size="14.3" text-anchor="middle" letter-spacing="1.7">**</text><text x="124.45" y="521.6" font-size="14.3" text-anchor="middle" letter-spacing="1.7">*</text></g>
</g>
<g>
<g fill="none" stroke="#231f20"><path d="M806.1 362.2L806.1 574.2" stroke-width="2.3"/><path d="M800 363.3L806.1 363.3" stroke-width="2.1"/><path d="M800 416.2L806.1 416.2" stroke-width="2.1"/><path d="M800 468.6L806.1 468.6" stroke-width="2.1"/><path d="M800 520.9L806.1 520.9" stroke-width="2.1"/><path d="M800 573.1L806.1 573.1" stroke-width="2.1"/><path d="M800 573.1L1382.8 573.1" stroke-width="2.3"/><path d="M853.75 573.1L853.75 578.9" stroke-width="2.1"/><path d="M950 573.1L950 578.9" stroke-width="2.1"/><path d="M1045.6 573.1L1045.6 578.9" stroke-width="2.1"/><path d="M1142 573.1L1142 578.9" stroke-width="2.1"/><path d="M1237.6 573.1L1237.6 578.9" stroke-width="2.1"/><path d="M1333.6 573.1L1333.6 578.9" stroke-width="2.1"/><path d="M822.1 560.9L885.7 560.9" stroke-width="2.2"/><path d="M838.1 557.4L869.7 557.4" stroke-width="3"/><path d="M838.1 564.2L869.7 564.2" stroke-width="3"/><path d="M853.9 557.4L853.9 564.2" stroke-width="3"/><path d="M918 549.9L981.8 549.9" stroke-width="2.6"/><path d="M934.1 541.5L965.7 541.5" stroke-width="3.4"/><path d="M934.1 558.4L965.7 558.4" stroke-width="3.4"/><path d="M949.9 541.5L949.9 558.4" stroke-width="3"/><path d="M1013.7 511L1077.5 511" stroke-width="2.6"/><path d="M1029.8 483L1061.4 483" stroke-width="3.4"/><path d="M1029.8 538.75L1061.4 538.75" stroke-width="3.4"/><path d="M1045.6 483L1045.6 538.75" stroke-width="3"/><path d="M1110 520.4L1173.8 520.4" stroke-width="2.6"/><path d="M1126 507.75L1157.8 507.75" stroke-width="3.4"/><path d="M1126 533.4L1157.8 533.4" stroke-width="3.4"/><path d="M1141.9 507.75L1141.9 533.4" stroke-width="3"/><path d="M1206 548.7L1269.6 548.7" stroke-width="2.6"/><path d="M1221.9 541L1253.7 541" stroke-width="3.4"/><path d="M1221.9 556.5L1253.7 556.5" stroke-width="3.4"/><path d="M1237.8 541L1237.8 556.5" stroke-width="3"/><path d="M1317.7 568.7L1349.7 568.7" stroke-width="2"/><path d="M849.3 469.4L1141.5 469.4" stroke-width="1.2"/><path d="M849.3 464.8L849.3 474" stroke-width="1.2"/><path d="M1141.5 464.8L1141.5 474" stroke-width="1.2"/></g>
<g fill="#231f20"><circle cx="854.25" cy="514.5" r="4.2"/><circle cx="854" cy="528.5" r="4.2"/><circle cx="852.1" cy="541.5" r="4.2"/><circle cx="856" cy="545.6" r="4.2"/><circle cx="854" cy="551" r="4.2"/><circle cx="849" cy="553.5" r="4.2"/><circle cx="859" cy="553.5" r="4.2"/><circle cx="847.5" cy="558" r="4.2"/><circle cx="854" cy="557" r="4.2"/><circle cx="860.5" cy="558" r="4.2"/><circle cx="849" cy="562.5" r="4.2"/><circle cx="855" cy="562.5" r="4.2"/><circle cx="860" cy="562.5" r="4.2"/><circle cx="853" cy="566" r="4.2"/><circle cx="830" cy="570.6" r="4.2"/><circle cx="881.9" cy="570.6" r="4.2"/><circle cx="826.25" cy="573" r="4.2"/><circle cx="830.53" cy="573" r="4.2"/><circle cx="834.81" cy="573" r="4.2"/><circle cx="839.09" cy="573" r="4.2"/><circle cx="843.37" cy="573" r="4.2"/><circle cx="847.65" cy="573" r="4.2"/><circle cx="851.93" cy="573" r="4.2"/><circle cx="856.22" cy="573" r="4.2"/><circle cx="860.5" cy="573" r="4.2"/><circle cx="864.78" cy="573" r="4.2"/><circle cx="869.06" cy="573" r="4.2"/><circle cx="873.34" cy="573" r="4.2"/><circle cx="877.62" cy="573" r="4.2"/><circle cx="881.9" cy="573" r="4.2"/><path d="M945.3 495.7L953.7 495.7L949.5 487.3Z"/><path d="M951.3 517.7L959.7 517.7L955.5 509.3Z"/><path d="M940.05 522.45L948.45 522.45L944.25 514.05Z"/><path d="M945.3 536.2L953.7 536.2L949.5 527.8Z"/><path d="M945.4 554.7L953.8 554.7L949.6 546.3Z"/><path d="M928.9 571.1L937.3 571.1L933.1 562.7Z"/><path d="M939.8 569.2L948.2 569.2L944 560.8Z"/><path d="M917.8 577.7L926.2 577.7L922 569.3Z"/><path d="M940.05 577.7L948.45 577.7L944.25 569.3Z"/><path d="M951.3 577.7L959.7 577.7L955.5 569.3Z"/><path d="M962.05 577.7L970.45 577.7L966.25 569.3Z"/><path d="M973.3 577.7L981.7 577.7L977.5 569.3Z"/><path d="M1041.3 417.05L1049.7 417.05L1045.5 425.45Z"/><path d="M1041.3 427.55L1049.7 427.55L1045.5 435.95Z"/><path d="M1041.3 438.8L1049.7 438.8L1045.5 447.2Z"/><path d="M1041.3 543.55L1049.7 543.55L1045.5 551.95Z"/><path d="M1013.8 568.2L1022.2 568.2L1018 576.6Z"/><path d="M1022.8 568.2L1031.2 568.2L1027 576.6Z"/><path d="M1032.05 568.2L1040.45 568.2L1036.25 576.6Z"/><path d="M1041.3 568.2L1049.7 568.2L1045.5 576.6Z"/><path d="M1050.8 568.2L1059.2 568.2L1055 576.6Z"/><path d="M1060.05 568.2L1068.45 568.2L1064.25 576.6Z"/><path d="M1069.55 568.2L1077.95 568.2L1073.75 576.6Z"/><path d="M1142 376.2L1146.3 380.5L1142 384.8L1137.7 380.5Z"/><path d="M1143.75 410.2L1148.05 414.5L1143.75 418.8L1139.45 414.5Z"/><path d="M1140 416.95L1144.3 421.25L1140 425.55L1135.7 421.25Z"/><path d="M1141.9 422.95L1146.2 427.25L1141.9 431.55L1137.6 427.25Z"/><path d="M1141.9 453.6L1146.2 457.9L1141.9 462.2L1137.6 457.9Z"/><path d="M1141.9 474.7L1146.2 479L1141.9 483.3L1137.6 479Z"/><path d="M1141.9 481.95L1146.2 486.25L1141.9 490.55L1137.6 486.25Z"/><path d="M1144.5 488.45L1148.8 492.75L1144.5 497.05L1140.2 492.75Z"/><path d="M1139.5 491.2L1143.8 495.5L1139.5 499.8L1135.2 495.5Z"/><path d="M1140 521.3L1144.3 525.6L1140 529.9L1135.7 525.6Z"/><path d="M1144.4 522.2L1148.7 526.5L1144.4 530.8L1140.1 526.5Z"/><path d="M1141.9 534.7L1146.2 539L1141.9 543.3L1137.6 539Z"/><path d="M1141.25 552.6L1145.55 556.9L1141.25 561.2L1136.95 556.9Z"/><path d="M1143 555.7L1147.3 560L1143 564.3L1138.7 560Z"/><path d="M1115.6 568.6L1119.9 572.9L1115.6 577.2L1111.3 572.9Z"/><path d="M1118.96 568.6L1123.26 572.9L1118.96 577.2L1114.66 572.9Z"/><path d="M1122.32 568.6L1126.62 572.9L1122.32 577.2L1118.02 572.9Z"/><path d="M1125.69 568.6L1129.99 572.9L1125.69 577.2L1121.39 572.9Z"/><path d="M1129.05 568.6L1133.35 572.9L1129.05 577.2L1124.75 572.9Z"/><path d="M1132.41 568.6L1136.71 572.9L1132.41 577.2L1128.11 572.9Z"/><path d="M1135.78 568.6L1140.08 572.9L1135.78 577.2L1131.48 572.9Z"/><path d="M1139.14 568.6L1143.44 572.9L1139.14 577.2L1134.84 572.9Z"/><path d="M1142.5 568.6L1146.8 572.9L1142.5 577.2L1138.2 572.9Z"/><path d="M1145.86 568.6L1150.16 572.9L1145.86 577.2L1141.56 572.9Z"/><path d="M1149.22 568.6L1153.52 572.9L1149.22 577.2L1144.92 572.9Z"/><path d="M1152.59 568.6L1156.89 572.9L1152.59 577.2L1148.29 572.9Z"/><path d="M1155.95 568.6L1160.25 572.9L1155.95 577.2L1151.65 572.9Z"/><path d="M1159.31 568.6L1163.61 572.9L1159.31 577.2L1155.01 572.9Z"/><path d="M1162.68 568.6L1166.98 572.9L1162.68 577.2L1158.38 572.9Z"/><path d="M1166.04 568.6L1170.34 572.9L1166.04 577.2L1161.74 572.9Z"/><path d="M1169.4 568.6L1173.7 572.9L1169.4 577.2L1165.1 572.9Z"/><rect x="1233.75" y="428.25" width="8.5" height="8.5"/><rect x="1233.75" y="442.45" width="8.5" height="8.5"/><rect x="1233.75" y="447.75" width="8.5" height="8.5"/><rect x="1233.75" y="453.25" width="8.5" height="8.5"/><rect x="1233.55" y="458.55" width="8.5" height="8.5"/><rect x="1233.75" y="471.35" width="8.5" height="8.5"/><rect x="1233.75" y="495.25" width="8.5" height="8.5"/><rect x="1233.75" y="520.55" width="8.5" height="8.5"/><rect x="1233.75" y="525.75" width="8.5" height="8.5"/><rect x="1233.35" y="531.75" width="8.5" height="8.5"/><rect x="1233.95" y="537.75" width="8.5" height="8.5"/><rect x="1233.55" y="543.75" width="8.5" height="8.5"/><rect x="1234.05" y="549.75" width="8.5" height="8.5"/><rect x="1233.75" y="555.75" width="8.5" height="8.5"/><rect x="1232.25" y="559.75" width="8.5" height="8.5"/><rect x="1228.75" y="563.25" width="8.5" height="8.5"/><rect x="1206.05" y="565.05" width="8.5" height="8.5"/><rect x="1209.75" y="565.05" width="8.5" height="8.5"/><rect x="1245.75" y="567.25" width="8.5" height="8.5"/><rect x="1206.05" y="568.85" width="8.5" height="8.5"/><rect x="1211.55" y="568.85" width="8.5" height="8.5"/><rect x="1217.05" y="568.85" width="8.5" height="8.5"/><rect x="1222.55" y="568.85" width="8.5" height="8.5"/><rect x="1228.05" y="568.85" width="8.5" height="8.5"/><rect x="1233.55" y="568.85" width="8.5" height="8.5"/><rect x="1239.05" y="568.85" width="8.5" height="8.5"/><rect x="1244.55" y="568.85" width="8.5" height="8.5"/><rect x="1250.05" y="568.85" width="8.5" height="8.5"/><rect x="1255.55" y="568.85" width="8.5" height="8.5"/><rect x="1261.05" y="568.85" width="8.5" height="8.5"/><circle cx="1333.75" cy="514.75" r="4.2"/><circle cx="1332.3" cy="549" r="4.2"/><circle cx="1335.6" cy="549" r="4.2"/><circle cx="1334" cy="561.9" r="4.2"/><circle cx="1338.75" cy="569" r="4.2"/><circle cx="1306.6" cy="572.6" r="4.2"/><circle cx="1309.49" cy="572.6" r="4.2"/><circle cx="1312.38" cy="572.6" r="4.2"/><circle cx="1315.27" cy="572.6" r="4.2"/><circle cx="1318.16" cy="572.6" r="4.2"/><circle cx="1321.05" cy="572.6" r="4.2"/><circle cx="1323.94" cy="572.6" r="4.2"/><circle cx="1326.83" cy="572.6" r="4.2"/><circle cx="1329.72" cy="572.6" r="4.2"/><circle cx="1332.61" cy="572.6" r="4.2"/><circle cx="1335.49" cy="572.6" r="4.2"/><circle cx="1338.38" cy="572.6" r="4.2"/><circle cx="1341.27" cy="572.6" r="4.2"/><circle cx="1344.16" cy="572.6" r="4.2"/><circle cx="1347.05" cy="572.6" r="4.2"/><circle cx="1349.94" cy="572.6" r="4.2"/><circle cx="1352.83" cy="572.6" r="4.2"/><circle cx="1355.72" cy="572.6" r="4.2"/><circle cx="1358.61" cy="572.6" r="4.2"/><circle cx="1361.5" cy="572.6" r="4.2"/></g>
<g fill="#231f20" stroke="#231f20" stroke-width="0.25" stroke-linejoin="round"><text stroke-width="0.2" x="784" y="345.8" font-size="23">e. PDIA6.</text><text x="797.9" y="368.8" font-size="15.8" text-anchor="end">80</text><text x="797.9" y="421.7" font-size="15.8" text-anchor="end">60</text><text x="797.9" y="474.1" font-size="15.8" text-anchor="end">40</text><text x="797.9" y="526.4" font-size="15.8" text-anchor="end">20</text><text x="797.9" y="578.6" font-size="15.8" text-anchor="end">0</text><text transform="translate(767.2 468.8) rotate(-90) scale(0.93 1)" font-size="23.6" text-anchor="middle">ng/mL</text><text x="847.4" y="594.5" font-size="15.85" text-anchor="middle">normal</text><text x="950.3" y="594.5" font-size="15.85" text-anchor="middle">benign</text><text x="1046" y="594.5" font-size="15.85" text-anchor="middle">hyperplasia</text><text x="1142.5" y="594.5" font-size="15.85" text-anchor="middle">fibroadenoma</text><text x="1238.4" y="594.5" font-size="15.85" text-anchor="middle">DCIS</text><text x="1334.6" y="594.5" font-size="15.85" text-anchor="middle">breast cancer</text><text x="938.2" y="453.4" font-size="17.5" text-anchor="middle">***</text></g>
</g>
</svg>
</body>
</html>
